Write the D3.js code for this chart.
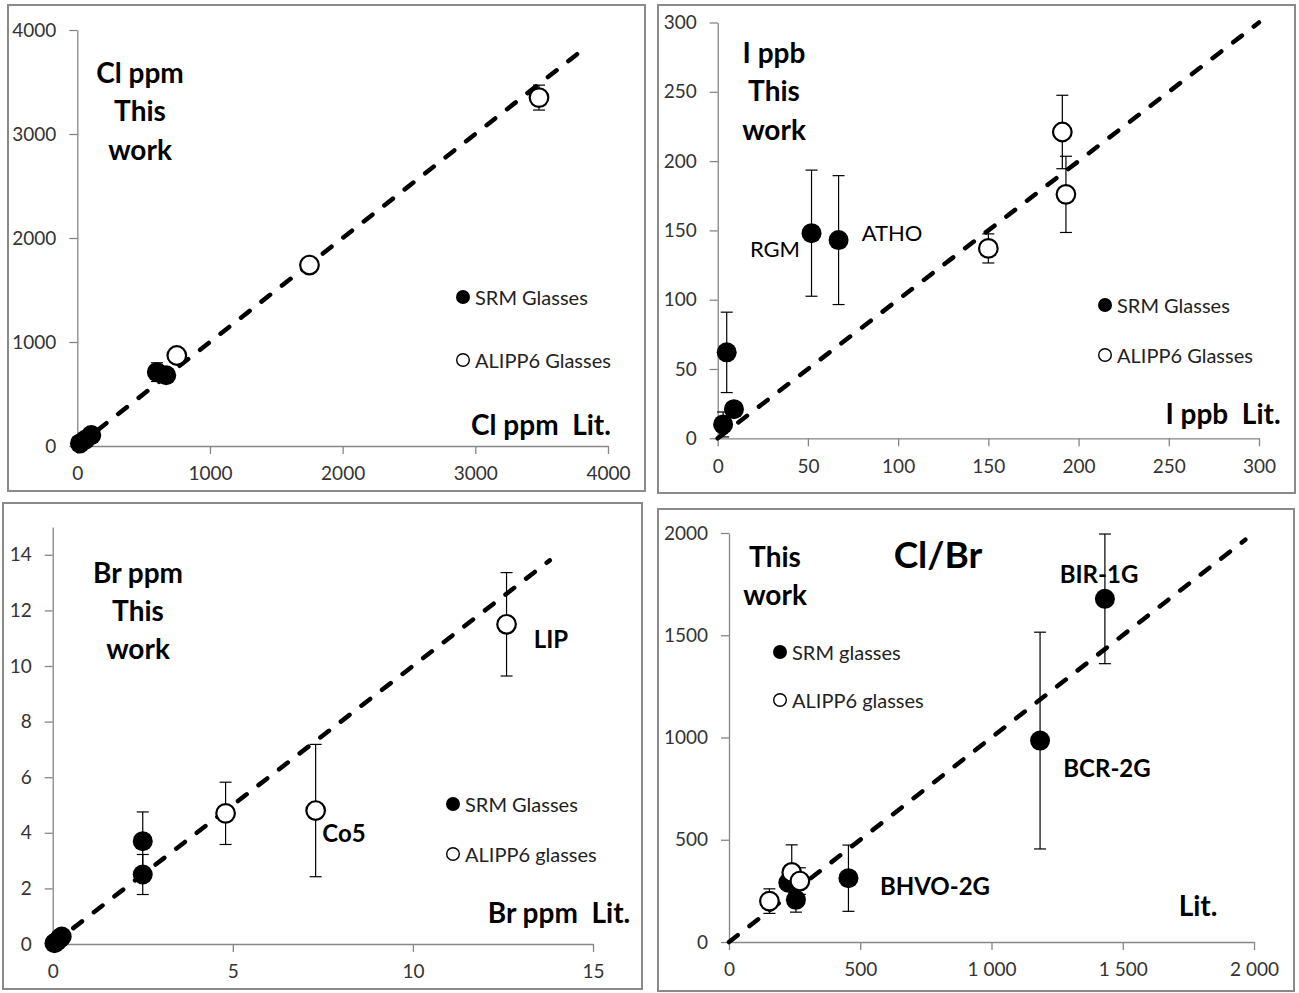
<!DOCTYPE html>
<html><head><meta charset="utf-8">
<script src="https://cdn.jsdelivr.net/npm/d3@7"></script>
<style>
body{margin:0;background:#fff}
svg{display:block}
text{font-family:Lato,"Open Sans",sans-serif}
</style>
</head><body>
<svg id="c" width="1299" height="993"></svg>
<script>
// ---------- Cl (ppm) ----------
const clLit   = [20, 60, 105, 600, 670, 750, 1750, 3480];
const clWork  = [25, 60, 105, 710, 680, 870, 1740, 3350];
const clErr   = [0, 0, 0, 90, 0, 0, 0, 120];
const clKind  = ["SRM","SRM","SRM","SRM","SRM","ALIPP6","ALIPP6","ALIPP6"];
const clTicks = [0, 1000, 2000, 3000, 4000];
const clTickLabels = ["0","1000","2000","3000","4000"];
const clFitEnd = 3830;

// ---------- I (ppb) ----------
const iLit   = [3, 5, 9, 52, 67, 150, 191, 193];
const iWork  = [10, 62, 21, 148, 143, 137, 221, 176];
const iErr   = [9, 29, 0, 45.5, 46.5, 10.5, 26.5, 27.5];
const iKind  = ["SRM","SRM","SRM","SRM","SRM","ALIPP6","ALIPP6","ALIPP6"];
const iTicks = [0, 50, 100, 150, 200, 250, 300];
const iTickLabels = ["0","50","100","150","200","250","300"];
const iFitEnd = 300;

// ---------- Br (ppm) ----------
const brLit   = [0.05, 0.12, 0.2, 0.25, 2.5, 2.5, 4.8, 7.3, 12.6];
const brWork  = [0.03, 0.1, 0.2, 0.27, 3.7, 2.5, 4.7, 4.8, 11.5];
const brErr   = [0, 0, 0, 0, 1.05, 0.72, 1.12, 2.38, 1.86];
const brKind  = ["SRM","SRM","SRM","SRM","SRM","SRM","ALIPP6","ALIPP6","ALIPP6"];
const brXTicks = [0, 5, 10, 15];
const brXTickLabels = ["0","5","10","15"];
const brYTicks = [0, 2, 4, 6, 8, 10, 12, 14];
const brYTickLabels = ["0","2","4","6","8","10","12","14"];
const brFitEnd = 13.8;

// ---------- Cl/Br ----------
const cbLit   = [226, 255, 455, 1185, 1432, 154, 239, 270];
const cbWork  = [290, 206, 312, 985, 1678, 200, 340, 298];
const cbErr   = [0, 60, 162, 530, 317, 60, 135, 65];
const cbKind  = ["SRM","SRM","SRM","SRM","SRM","ALIPP6","ALIPP6","ALIPP6"];
const cbTicks = [0, 500, 1000, 1500, 2000];
const cbXTickLabels = ["0","500","1 000","1 500","2 000"];
const cbYTickLabels = ["0","500","1000","1500","2000"];
const cbFitEnd = 1967;

const panels = [
  { lit: clLit, work: clWork, err: clErr, kind: clKind,
    xTicks: clTicks, xLabels: clTickLabels, yTicks: clTicks, yLabels: clTickLabels,
    xMax: 4000, yMax: 4000, fitEnd: clFitEnd,
    frame: [8, 5, 645, 491], xr: [77.3, 608], yr: [446, 30],
    legend: { x: 463, y1: 297, y2: 360, t1: "SRM Glasses", t2: "ALIPP6 Glasses" },
    texts: [
      { t: "Cl ppm", x: 140, y: 72, s: 28, b: true },
      { t: "This", x: 140, y: 110, s: 28, b: true },
      { t: "work", x: 140, y: 149, s: 28, b: true },
      { t: "Cl ppm\u00a0\u00a0Lit.", x: 541, y: 424, s: 28, b: true }
    ] },
  { lit: iLit, work: iWork, err: iErr, kind: iKind,
    xTicks: iTicks, xLabels: iTickLabels, yTicks: iTicks, yLabels: iTickLabels,
    xMax: 300, yMax: 300, fitEnd: iFitEnd,
    frame: [658, 5, 1295, 493], xr: [717.7, 1259], yr: [438.3, 22.5],
    legend: { x: 1105, y1: 305, y2: 355, t1: "SRM Glasses", t2: "ALIPP6 Glasses" },
    texts: [
      { t: "I ppb", x: 774, y: 52, s: 28, b: true },
      { t: "This", x: 774, y: 90, s: 28, b: true },
      { t: "work", x: 774, y: 129, s: 28, b: true },
      { t: "RGM", x: 775, y: 248, s: 22, b: false },
      { t: "ATHO", x: 892, y: 232, s: 22, b: false },
      { t: "I ppb\u00a0\u00a0Lit.", x: 1223, y: 413, s: 28, b: true }
    ] },
  { lit: brLit, work: brWork, err: brErr, kind: brKind,
    xTicks: brXTicks, xLabels: brXTickLabels, yTicks: brYTicks, yLabels: brYTickLabels,
    xMax: 15, yMax: 15, fitEnd: brFitEnd,
    frame: [3, 503, 642, 989], xr: [52.7, 593], yr: [944, 527],
    legend: { x: 453, y1: 804, y2: 854, t1: "SRM Glasses", t2: "ALIPP6 glasses" },
    texts: [
      { t: "Br ppm", x: 138, y: 572, s: 28, b: true },
      { t: "This", x: 138, y: 610, s: 28, b: true },
      { t: "work", x: 138, y: 648, s: 28, b: true },
      { t: "LIP", x: 551, y: 638, s: 24, b: true },
      { t: "Co5", x: 344, y: 832, s: 24, b: true },
      { t: "Br ppm\u00a0\u00a0Lit.", x: 559, y: 912, s: 28, b: true }
    ] },
  { lit: cbLit, work: cbWork, err: cbErr, kind: cbKind,
    xTicks: cbTicks, xLabels: cbXTickLabels, yTicks: cbTicks, yLabels: cbYTickLabels,
    xMax: 2000, yMax: 2000, fitEnd: cbFitEnd,
    frame: [658, 509, 1294, 991], xr: [729, 1254], yr: [942, 533],
    legend: { x: 780, y1: 652, y2: 700, t1: "SRM glasses", t2: "ALIPP6 glasses" },
    texts: [
      { t: "This", x: 775, y: 556, s: 28, b: true },
      { t: "work", x: 775, y: 594, s: 28, b: true },
      { t: "Cl/Br", x: 938, y: 553, s: 37, b: true },
      { t: "BIR-1G", x: 1099, y: 573, s: 24, b: true },
      { t: "BCR-2G", x: 1107, y: 767, s: 24, b: true },
      { t: "BHVO-2G", x: 935, y: 885, s: 24, b: true },
      { t: "Lit.", x: 1198, y: 905, s: 28, b: true }
    ] }
];

const svg = d3.select("#c");
const AX = "#868686";

panels.forEach(p => {
  const g = svg.append("g");
  const [fx0, fy0, fx1, fy1] = p.frame;
  g.append("rect").attr("x", fx0).attr("y", fy0)
    .attr("width", fx1 - fx0).attr("height", fy1 - fy0)
    .attr("fill", "#fff").attr("stroke", "#8a8a8a").attr("stroke-width", 2);

  const x = d3.scaleLinear().domain([0, p.xMax]).range(p.xr);
  const y = d3.scaleLinear().domain([0, p.yMax]).range(p.yr);

  const xa = g.append("g").attr("transform", `translate(0,${p.yr[0]})`)
    .call(d3.axisBottom(x).tickValues(p.xTicks)
      .tickFormat((d, i) => p.xLabels[i]).tickSize(8).tickSizeOuter(0).tickPadding(13));
  const ya = g.append("g").attr("transform", `translate(${p.xr[0]},0)`)
    .call(d3.axisLeft(y).tickValues(p.yTicks)
      .tickFormat((d, i) => p.yLabels[i]).tickSize(8).tickSizeOuter(0).tickPadding(13));
  [xa, ya].forEach(a => {
    a.select(".domain").attr("stroke", AX).attr("stroke-width", 1.3);
    a.selectAll(".tick line").attr("stroke", AX).attr("stroke-width", 1.3);
    a.selectAll(".tick text").attr("fill", "#333")
      .style("font-family", "Lato, 'Open Sans', sans-serif").style("font-size", "19px");
  });

  // 1:1 dashed line
  g.append("line")
    .attr("x1", x(0)).attr("y1", y(0)).attr("x2", x(p.fitEnd)).attr("y2", y(p.fitEnd))
    .attr("stroke", "#000").attr("stroke-width", 4.5)
    .attr("stroke-dasharray", "11,15").attr("stroke-linecap", "round");

  const data = p.lit.map((v, i) => ({ x: v, y: p.work[i], e: p.err[i], k: p.kind[i] }));

  // error bars
  const eb = g.append("g").attr("stroke", "#000").attr("stroke-width", 1.2);
  data.filter(d => d.e > 0).forEach(d => {
    const cx = x(d.x), yt = y(d.y + d.e), yb = y(Math.max(0, d.y - d.e));
    eb.append("line").attr("x1", cx).attr("x2", cx).attr("y1", yt).attr("y2", yb);
    eb.append("line").attr("x1", cx - 6).attr("x2", cx + 6).attr("y1", yt).attr("y2", yt);
    eb.append("line").attr("x1", cx - 6).attr("x2", cx + 6).attr("y1", yb).attr("y2", yb);
  });

  // points: filled first then open
  g.append("g").selectAll("circle").data(data.filter(d => d.k === "SRM")).join("circle")
    .attr("cx", d => x(d.x)).attr("cy", d => y(d.y)).attr("r", 10).attr("fill", "#000");
  g.append("g").selectAll("circle").data(data.filter(d => d.k !== "SRM")).join("circle")
    .attr("cx", d => x(d.x)).attr("cy", d => y(d.y)).attr("r", 9.3)
    .attr("fill", "#fff").attr("stroke", "#000").attr("stroke-width", 2.2);

  // legend
  const L = p.legend;
  g.append("circle").attr("cx", L.x).attr("cy", L.y1).attr("r", 7).attr("fill", "#000");
  g.append("circle").attr("cx", L.x).attr("cy", L.y2).attr("r", 6.3)
    .attr("fill", "#fff").attr("stroke", "#000").attr("stroke-width", 1.4);
  [[L.t1, L.y1], [L.t2, L.y2]].forEach(([t, yy]) => {
    g.append("text").attr("x", L.x + 12).attr("y", yy).attr("dominant-baseline", "central")
      .attr("font-size", 20).attr("fill", "#222").text(t);
  });

  // annotations
  p.texts.forEach(t => {
    g.append("text").attr("x", t.x).attr("y", t.y).attr("text-anchor", "middle")
      .attr("dominant-baseline", "central").attr("font-size", t.s)
      .attr("font-weight", t.b ? 700 : 400).attr("fill", "#000").text(t.t);
  });
});
</script>
</body></html>
